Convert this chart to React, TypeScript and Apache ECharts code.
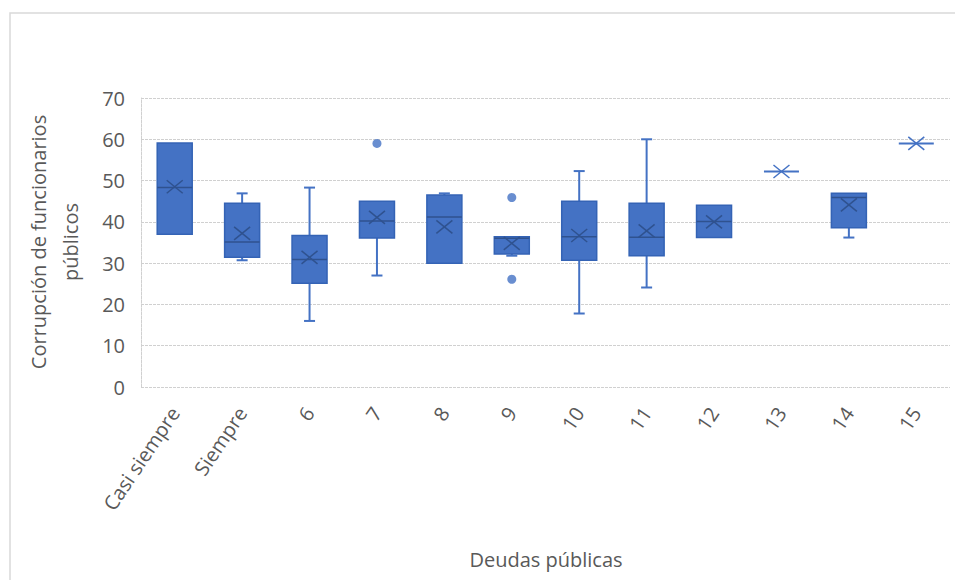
import React, { useEffect, useRef } from "react";
import * as echarts from "echarts";

const categories = ["Casi siempre", "Siempre", "6", "7", "8", "9", "10", "11", "12", "13", "14", "15"];
const mins = [37, 30.7, 16, 27, 30, 31.8, 17.8, 24.1, 36.2, 52.2, 36.2, 59];
const q1s = [37, 31.4, 25.1, 36.1, 30, 32.2, 30.7, 31.8, 36.2, 52.2, 38.6, 59];
const medians = [48.3, 35.1, 30.9, 40.2, 41.2, 36, 36.4, 36.3, 40.1, 52.2, 45.9, 59];
const q3s = [59.1, 44.5, 36.7, 45, 46.5, 36.4, 45, 44.5, 44, 52.2, 46.9, 59];
const maxs = [59.1, 46.9, 48.3, 45, 46.9, 36.4, 52.3, 60, 44, 52.2, 46.9, 59];
const means = [48.5, 37.2, 31.4, 41.1, 38.8, 34.8, 36.7, 37.8, 40, 52.2, 44.1, 59];
const outliers = [
  [3, 59],
  [5, 45.9],
  [5, 26.1],
];
const yTicks = [0, 10, 20, 30, 40, 50, 60, 70];

const FONT = "Open Sans";
const FS = 20;
const FILL = "#4472C4";
const DARK = "#2F528F";

export default function App() {
  const ref = useRef<HTMLDivElement>(null);
  useEffect(() => {
    if (!ref.current) return;
    const chart = echarts.init(ref.current, undefined, { renderer: "svg" });
    const rows = categories.map((_, i) => [i, mins[i], q1s[i], medians[i], q3s[i], maxs[i], means[i]]);
    const option: any = {
      animation: false,
      backgroundColor: "#fff",
      grid: { left: 141, top: 98, right: 5, bottom: 193 },
      graphic: [
        {
          type: "rect",
          shape: { x: 10, y: 13, width: 980, height: 600 },
          style: { fill: "none", stroke: "#D9D9D9", lineWidth: 1.5 },
          silent: true,
        },
        {
          type: "text",
          x: 54,
          y: 242,
          rotation: Math.PI / 2,
          style: {
            text: "Corrupción de funcionarios\npúblicos",
            fontFamily: FONT,
            fontSize: FS,
            fill: "#595959",
            align: "center",
            verticalAlign: "middle",
            lineHeight: 32,
          },
        },
        {
          type: "text",
          x: 546,
          y: 559,
          style: {
            text: "Deudas públicas",
            fontFamily: FONT,
            fontSize: FS,
            fill: "#595959",
            align: "center",
            verticalAlign: "middle",
          },
        },
      ],
      xAxis: {
        type: "category",
        data: categories,
        boundaryGap: true,
        axisLine: { show: false },
        axisTick: { show: false },
        axisLabel: {
          rotate: 56,
          interval: 0,
          margin: 22,
          color: "#595959",
          fontFamily: FONT,
          fontSize: FS,
        },
      },
      yAxis: {
        type: "value",
        min: yTicks[0],
        max: yTicks[yTicks.length - 1],
        interval: 10,
        axisLine: { show: true, lineStyle: { color: "#D0D0D0", type: [3, 1] } },
        axisTick: { show: false },
        axisLabel: { margin: 16, color: "#595959", fontFamily: FONT, fontSize: FS },
        splitLine: { lineStyle: { color: "#D0D0D0", type: [3, 1], width: 1 } },
      },
      series: [
        {
          type: "custom",
          data: rows,
          encode: { x: 0, y: [1, 2, 3, 4, 5, 6] },
          renderItem: (params: any, api: any) => {
            const idx = api.value(0);
            const pMin = api.coord([idx, api.value(1)]);
            const pQ1 = api.coord([idx, api.value(2)]);
            const pMed = api.coord([idx, api.value(3)]);
            const pQ3 = api.coord([idx, api.value(4)]);
            const pMax = api.coord([idx, api.value(5)]);
            const pMean = api.coord([idx, api.value(6)]);
            const cx = pMed[0];
            const bw = 35;
            const cap = 11;
            const children: any[] = [];
            const whiskerStyle = { stroke: FILL, lineWidth: 2 };
            if (pMin[1] - pQ1[1] > 0.5) {
              children.push({ type: "line", shape: { x1: cx, y1: pQ1[1], x2: cx, y2: pMin[1] }, style: whiskerStyle });
              children.push({ type: "line", shape: { x1: cx - cap / 2, y1: pMin[1], x2: cx + cap / 2, y2: pMin[1] }, style: whiskerStyle });
            }
            if (pQ3[1] - pMax[1] > 0.5) {
              children.push({ type: "line", shape: { x1: cx, y1: pQ3[1], x2: cx, y2: pMax[1] }, style: whiskerStyle });
              children.push({ type: "line", shape: { x1: cx - cap / 2, y1: pMax[1], x2: cx + cap / 2, y2: pMax[1] }, style: whiskerStyle });
            }
            const h = pQ1[1] - pQ3[1];
            if (h > 0.5) {
              children.push({
                type: "rect",
                shape: { x: cx - bw / 2, y: pQ3[1], width: bw, height: h },
                style: { fill: FILL, stroke: "#3463B5", lineWidth: 1.5 },
              });
              children.push({
                type: "line",
                shape: { x1: cx - bw / 2, y1: pMed[1], x2: cx + bw / 2, y2: pMed[1] },
                style: { stroke: DARK, lineWidth: 1.5 },
              });
            } else {
              children.push({
                type: "line",
                shape: { x1: cx - bw / 2, y1: pMed[1], x2: cx + bw / 2, y2: pMed[1] },
                style: { stroke: FILL, lineWidth: 2 },
              });
            }
            const mx = 8;
            const my = 6.5;
            const xStroke = h > 0.5 ? DARK : FILL;
            children.push({
              type: "line",
              shape: { x1: cx - mx, y1: pMean[1] - my, x2: cx + mx, y2: pMean[1] + my },
              style: { stroke: xStroke, lineWidth: 1.5 },
            });
            children.push({
              type: "line",
              shape: { x1: cx - mx, y1: pMean[1] + my, x2: cx + mx, y2: pMean[1] - my },
              style: { stroke: xStroke, lineWidth: 1.5 },
            });
            return { type: "group", children };
          },
        },
        {
          type: "scatter",
          data: outliers,
          symbol: "circle",
          symbolSize: 9,
          itemStyle: { color: FILL },
        },
      ],
    };
    chart.setOption(option);
    return () => chart.dispose();
  }, []);
  return <div ref={ref} style={{ position: "absolute", left: 0, top: 0, width: 955, height: 580 }} />;
}
